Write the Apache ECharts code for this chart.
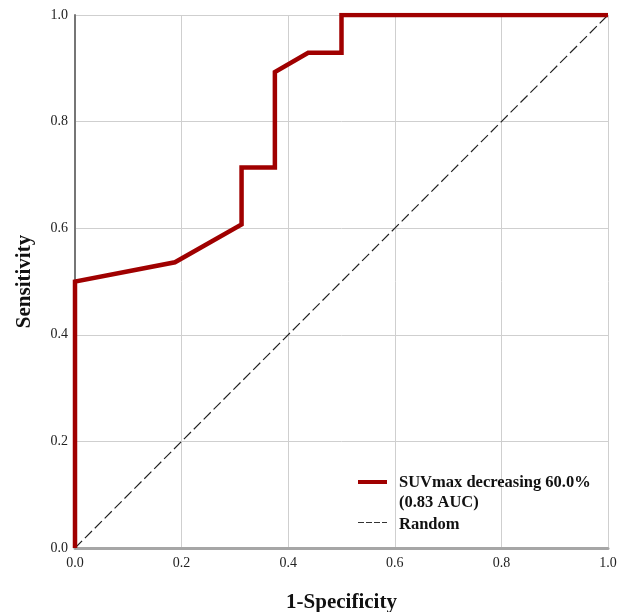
<!DOCTYPE html>
<html>
<head>
<meta charset="utf-8">
<script src="https://cdn.jsdelivr.net/npm/echarts@6/dist/echarts.min.js"></script>
<style>html,body{margin:0;padding:0;background:#fff}#c{width:620px;height:612px}</style>
</head>
<body>
<div id="c"></div>
<script>
const fpr = [0, 0, 0.1875, 0.3125, 0.3125, 0.375, 0.375, 0.4375, 0.5, 0.5, 1.0];
const tpr = [0, 0.5, 0.536, 0.607, 0.714, 0.714, 0.893, 0.929, 0.929, 1.0, 1.0];
const randomX = [0, 1];
const randomY = [0, 1];
const tickLabels = ['0.0', '0.2', '0.4', '0.6', '0.8', '1.0'];
const seriesName = 'SUVmax decreasing 60.0%\n(0.83 AUC)';
const randomName = 'Random';

const font = '"Liberation Serif", "DejaVu Serif", serif';
const chart = echarts.init(document.getElementById('c'));
chart.setOption({
  animation: false,
  grid: { left: 75, right: 12, top: 15, bottom: 64, containLabel: false, outerBoundsMode: 'none' },
  xAxis: {
    type: 'value', min: 0, max: 1, interval: 0.2,
    name: '1-Specificity', nameLocation: 'middle', nameGap: 44,
    nameTextStyle: { fontFamily: font, fontSize: 21, fontWeight: 'bold', color: '#111' },
    axisLine: { show: true, onZero: false, lineStyle: { color: '#a6a6a6', width: 3 } },
    axisTick: { show: false },
    axisLabel: { fontFamily: font, fontSize: 14, color: '#222', margin: 8,
      formatter: v => tickLabels[Math.round(v * 5)] },
    splitLine: { show: true, lineStyle: { color: '#cfcfcf', width: 1 } }
  },
  yAxis: {
    type: 'value', min: 0, max: 1, interval: 0.2,
    name: 'Sensitivity', nameLocation: 'middle', nameGap: 40,
    nameTextStyle: { fontFamily: font, fontSize: 21, fontWeight: 'bold', color: '#111' },
    axisLine: { show: true, onZero: false, lineStyle: { color: '#767676', width: 2 } },
    axisTick: { show: false },
    axisLabel: { fontFamily: font, fontSize: 14, color: '#222', margin: 7,
      formatter: v => tickLabels[Math.round(v * 5)] },
    splitLine: { show: true, lineStyle: { color: '#cfcfcf', width: 1 } }
  },
  series: [
    {
      name: randomName, type: 'line', symbol: 'none', z: 2,
      data: randomX.map((x, i) => [x, randomY[i]]),
      lineStyle: { color: '#222', width: 1.2, type: [10, 4] }
    },
    {
      name: seriesName, type: 'line', symbol: 'none', z: 3,
      data: fpr.map((x, i) => [x, tpr[i]]),
      lineStyle: { color: '#a00000', width: 4.5, join: 'miter' }
    }
  ],
  graphic: [
    { type: 'line', shape: { x1: 358, y1: 482, x2: 387, y2: 482 }, style: { stroke: '#a00000', lineWidth: 4 }, z: 10 },
    { type: 'text', left: 399, top: 473, style: { text: seriesName, font: 'bold 16.5px ' + font, fill: '#111', lineHeight: 20 }, z: 10 },
    { type: 'line', shape: { x1: 358, y1: 522.5, x2: 387, y2: 522.5 }, style: { stroke: '#333', lineWidth: 1, lineDash: [6, 2] }, z: 10 },
    { type: 'text', left: 399, top: 515, style: { text: randomName, font: 'bold 16.5px ' + font, fill: '#111', lineHeight: 20 }, z: 10 }
  ]
});
</script>
</body>
</html>
